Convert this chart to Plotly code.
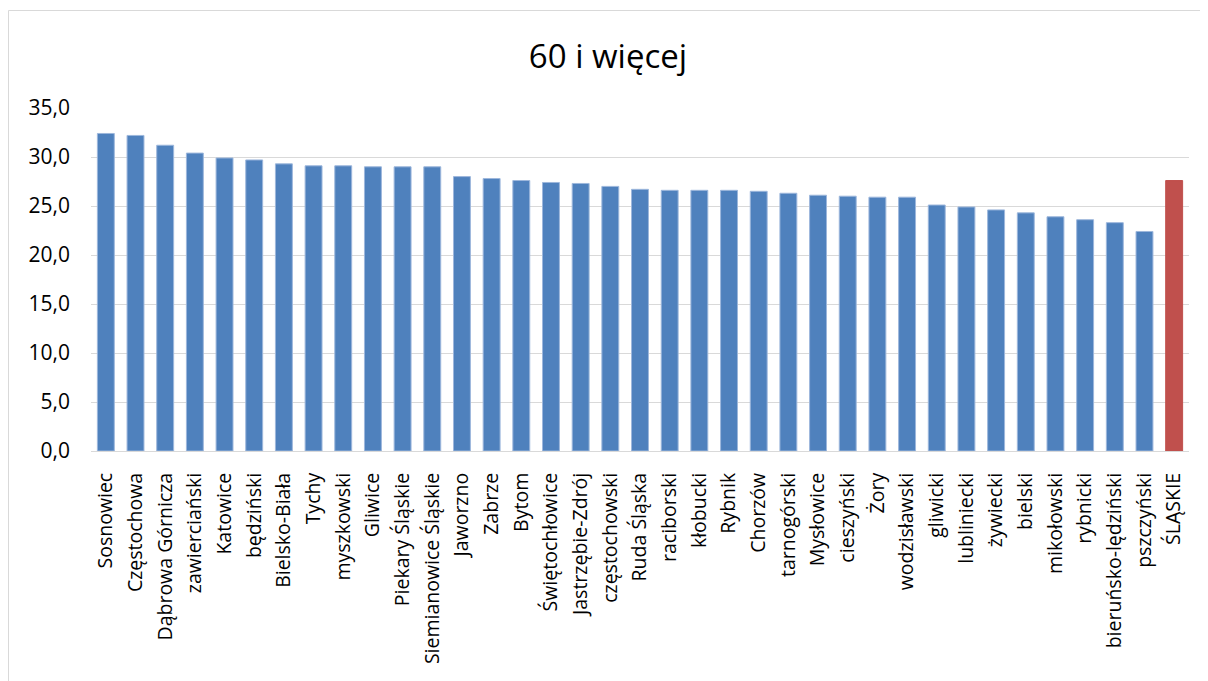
import plotly.graph_objects as go

categories = ["Sosnowiec", "Częstochowa", "Dąbrowa Górnicza", "zawierciański", "Katowice",
              "będziński", "Bielsko-Biała", "Tychy", "myszkowski", "Gliwice",
              "Piekary Śląskie", "Siemianowice Śląskie", "Jaworzno", "Zabrze", "Bytom",
              "Świętochłowice", "Jastrzębie-Zdrój", "częstochowski", "Ruda Śląska", "raciborski",
              "kłobucki", "Rybnik", "Chorzów", "tarnogórski", "Mysłowice",
              "cieszyński", "Żory", "wodzisławski", "gliwicki", "lubliniecki",
              "żywiecki", "bielski", "mikołowski", "rybnicki", "bieruńsko-lędziński",
              "pszczyński", "ŚLĄSKIE"]
values = [32.4, 32.2, 31.2, 30.4, 29.9,
          29.7, 29.3, 29.1, 29.1, 29.0,
          29.0, 29.0, 28.0, 27.8, 27.6,
          27.4, 27.3, 27.0, 26.7, 26.6,
          26.6, 26.6, 26.5, 26.3, 26.1,
          26.0, 25.9, 25.9, 25.1, 24.9,
          24.6, 24.3, 23.9, 23.6, 23.3,
          22.4, 27.6]
y_ticks = [0, 5, 10, 15, 20, 25, 30, 35]
title_text = "60 i więcej"

colors = ["#4F81BD"] * (len(categories) - 1) + ["#C0504D"]
line_colors = ["#9DB7DC"] * (len(categories) - 1) + ["#C0504D"]

FONT = "Open Sans"

fig = go.Figure(go.Bar(
    x=categories, y=values,
    marker=dict(color=colors, line=dict(color=line_colors, width=1)),
))

# page body has an 8px margin; figure coordinates = screen - 8
W, H = 1200, 673
L, R, T, B = 83, 19, 100, 230
pw = W - L - R
ph = H - T - B

def px_x(x):
    return (x - L) / pw

def px_y(y):
    return (H - B - y) / ph

border = "#D9D9D9"

fig.update_layout(
    width=W, height=H,
    margin=dict(l=L, r=R, t=T, b=B),
    paper_bgcolor="white", plot_bgcolor="white",
    separators=",.",
    bargap=0.43,
    showlegend=False,
    title=dict(text=title_text, x=0.5, xanchor="center", y=1 - 48 / H, yanchor="middle",
               font=dict(family=FONT, size=33, color="#000000")),
    font=dict(family=FONT, color="#000000"),
    xaxis=dict(tickangle=-90, tickfont=dict(size=19.5, color="#000000"), showgrid=False,
               showline=True, linecolor=border, linewidth=1, ticks="",
               ticklabelstandoff=13),
    yaxis=dict(range=[0, 35], tickvals=y_ticks, tickformat=".1f",
               tickfont=dict(size=21, color="#000000"),
               showgrid=True, gridcolor=border, gridwidth=1, zeroline=False,
               ticklabelstandoff=20),
    shapes=[
        dict(type="line", xref="paper", yref="paper",
             x0=px_x(0.5), x1=px_x(W), y0=px_y(2.5), y1=px_y(2.5),
             line=dict(color=border, width=1), layer="below"),
        dict(type="line", xref="paper", yref="paper",
             x0=px_x(0.5), x1=px_x(0.5), y0=px_y(2.5), y1=px_y(H),
             line=dict(color=border, width=1), layer="below"),
    ],
)

fig.write_html("out.html")
